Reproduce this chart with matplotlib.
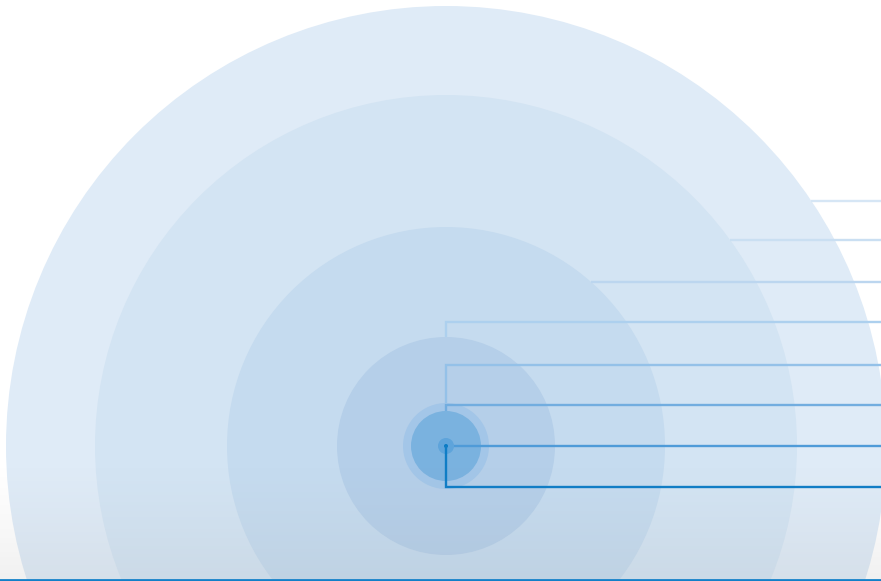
import numpy as np
import matplotlib.pyplot as plt
from matplotlib.patches import Circle

# circle sizes (radius, px-like units) from largest to smallest
radii = [440, 351, 219, 109, 43, 35, 8, 2]
circle_colors = ["#dfebf7", "#d3e4f3", "#c5dbef", "#b5cfe9",
                 "#a3c6e8", "#7ab2df", "#5ea4db", "#0a7bc4"]

# leader line levels (one per circle), how they leave the circle, colours
label_levels = [201, 240, 282, 322, 365, 405, 446, 487]
leader_kind = ["edge", "edge", "edge", "top", "top", "top", "side", "down"]
line_colors = ["#d6e6f5", "#cadff2", "#bcd6ef", "#add0ee",
               "#94c1e8", "#72addf", "#4f9bd8", "#0f7dc6"]

cx, cy = 446, 446
W, H = 881, 581

fig = plt.figure(figsize=(8.81, 5.81), dpi=100)
ax = fig.add_axes([0, 0, 1, 1])

for r, c in zip(radii, circle_colors):
    ax.add_patch(Circle((cx, cy), r, facecolor=c, edgecolor="none", zorder=1))

# leader lines
for r, lvl, kind, lc in zip(radii, label_levels, leader_kind, line_colors):
    if kind == "edge":
        dx = np.sqrt(r**2 - (cy - lvl) ** 2)
        xs, ys = [cx + dx, W], [lvl, lvl]
    elif kind == "top":
        xs, ys = [cx, cx, W], [cy - r, lvl, lvl]
    elif kind == "side":
        xs, ys = [cx + r, W], [lvl, lvl]
    else:
        xs, ys = [cx, cx, W], [cy, lvl, lvl]
    ax.plot(xs, ys, color=lc, lw=1.7, zorder=3, solid_capstyle="butt",
            solid_joinstyle="miter")

# grey fade at the bottom
grad = np.zeros((100, 2, 4))
grad[..., :3] = 0.62
grad[..., 3] = np.linspace(0, 0.2, 100)[:, None] ** 1.2
ax.imshow(grad, extent=[0, W, H - 2, 462], aspect="auto", zorder=4,
          interpolation="bilinear")

# base line
ax.plot([0, W], [579.5, 579.5], color="#1380c8", lw=2, zorder=5)

ax.set_xlim(0, W)
ax.set_ylim(H, 0)
ax.set_aspect("equal")
ax.axis("off")
plt.savefig("out.png", dpi=100)
